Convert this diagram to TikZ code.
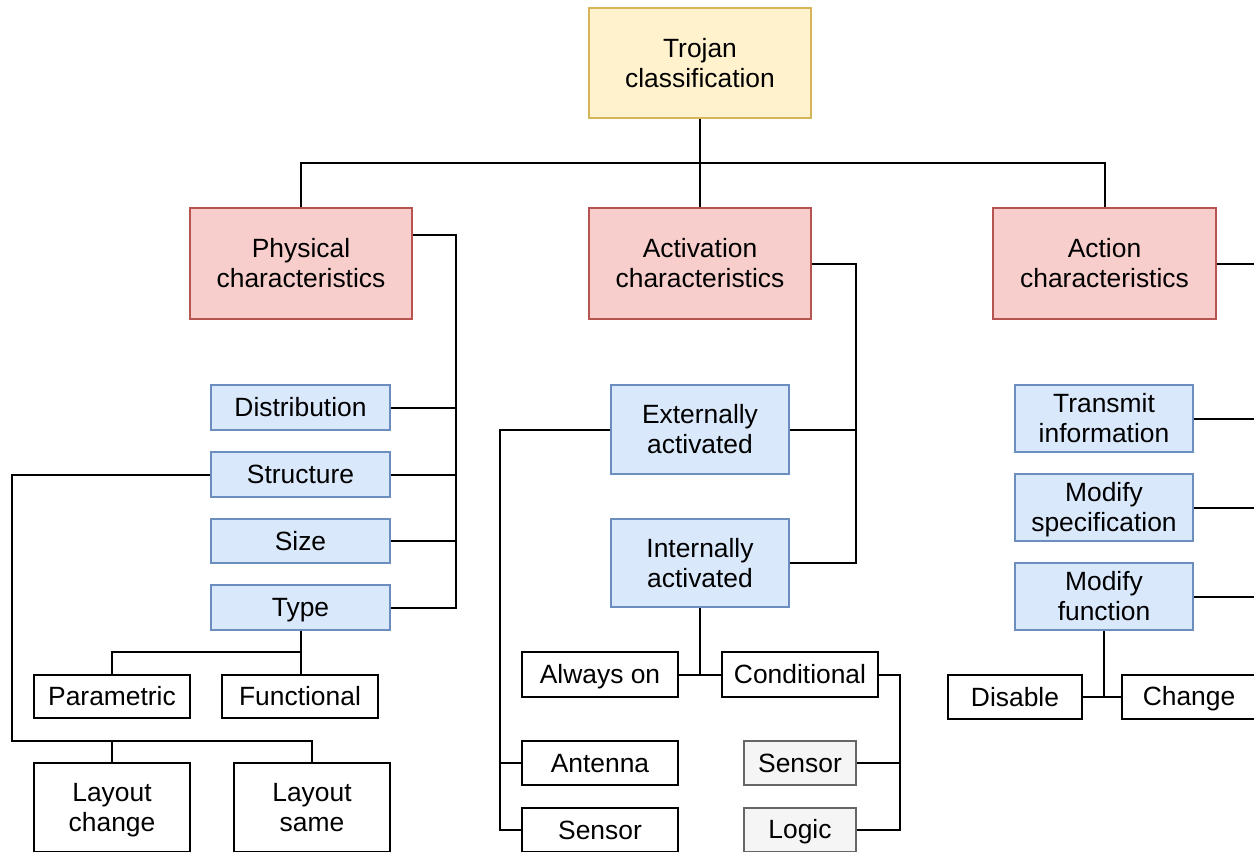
\documentclass[tikz,border=0pt]{standalone}
\usepackage{fontspec}
\setmainfont{Liberation Sans}
\definecolor{yfill}{HTML}{FFF2CC}\definecolor{ydraw}{HTML}{D6B656}
\definecolor{rfill}{HTML}{F8CECC}\definecolor{rdraw}{HTML}{B85450}
\definecolor{bfill}{HTML}{DAE8FC}\definecolor{bdraw}{HTML}{6C8EBF}
\definecolor{gfill}{HTML}{F5F5F5}\definecolor{gdraw}{HTML}{666666}
\tikzset{
  base/.style={draw,line width=1pt,inner sep=0pt,align=center,font=\fontsize{13.2}{15}\selectfont},
  ybox/.style={base,fill=yfill,draw=ydraw},
  rbox/.style={base,fill=rfill,draw=rdraw},
  bbox/.style={base,fill=bfill,draw=bdraw},
  gbox/.style={base,fill=gfill,draw=gdraw},
  wbox/.style={base,fill=white,draw=black},
  conn/.style={line width=1pt,draw=black}
}
\newcommand\bx[7]{\node[#2,minimum width={(#5-#3)*0.5pt},minimum height={(#6-#4)*0.5pt}] (#1) at ({(#3+#5)/2},{(#4+#6)/2}) {#7};}
\newcommand\st{\rule[-2.5pt]{0pt}{14pt}}
\newcommand\tl[2]{\st#1\\\st#2}
\begin{document}
\begin{tikzpicture}[x=0.5pt,y=-0.5pt]
\clip (0,0) rectangle (1254,852);
\fill[white] (0,0) rectangle (1254,852);
% junction coordinates
\coordinate (j1) at (700,163);
\coordinate (pb) at (456,607.5);
\coordinate (sl) at (12,741);
\coordinate (tj) at (300,652);
\coordinate (av) at (856,563);
\coordinate (el) at (500,830);
\coordinate (cr) at (900,830);
\coordinate (rightedge) at (1270,0);
% nodes
\bx{top}{ybox}{589}{8}{811}{118}{\tl{Trojan}{classification}}
\bx{phys}{rbox}{190}{208}{412}{319}{\tl{Physical}{characteristics}}
\bx{act}{rbox}{589}{208}{811}{319}{\tl{Activation}{characteristics}}
\bx{action}{rbox}{993}{208}{1216}{319}{\tl{Action}{characteristics}}
\bx{dist}{bbox}{211}{385}{390}{430}{\st Distribution}
\bx{struct}{bbox}{211}{452}{390}{497}{\st Structure}
\bx{size}{bbox}{211}{519}{390}{563}{\st Size}
\bx{type}{bbox}{211}{585}{390}{630}{\st Type}
\bx{param}{wbox}{34}{675}{190}{718}{\st Parametric}
\bx{func}{wbox}{222}{675}{378}{718}{\st Functional}
\bx{lay1}{wbox}{34}{763}{190}{852}{\tl{Layout}{change}}
\bx{lay2}{wbox}{234}{763}{390}{852}{\tl{Layout}{same}}
\bx{ext}{bbox}{611}{385}{789}{474}{\tl{Externally}{activated}}
\bx{int}{bbox}{611}{519}{789}{607}{\tl{Internally}{activated}}
\bx{always}{wbox}{522}{652}{678}{697}{\st Always on}
\bx{cond}{wbox}{722}{652}{878}{697}{\st Conditional}
\bx{ant}{wbox}{522}{741}{678}{785}{\st Antenna}
\bx{sens1}{wbox}{522}{808}{678}{852}{\st Sensor}
\bx{sens2}{gbox}{744}{741}{856}{785}{\st Sensor}
\bx{logic}{gbox}{744}{808}{856}{852}{\st Logic}
\bx{trans}{bbox}{1015}{385}{1193}{452}{\tl{Transmit}{information}}
\bx{mods}{bbox}{1015}{474}{1193}{541}{\tl{Modify}{specification}}
\bx{modf}{bbox}{1015}{563}{1193}{630}{\tl{Modify}{function}}
\bx{disable}{wbox}{948}{675}{1082}{719}{\st Disable}
\bx{change}{wbox}{1122}{675}{1256}{719}{\st Change}
% connectors
\begin{scope}[conn]
\draw (top.south) -- (j1);
\draw (phys.north) |- (j1) -| (action.north);
\draw (act.north) -- (act.north |- j1);
% physical
\draw (phys.east |- 0,235) -| (pb) -- (type.east);
\draw (dist.east) -- (dist.east -| pb);
\draw (struct.east) -- (struct.east -| pb);
\draw (size.east) -- (size.east -| pb);
\draw (type.south) -- (type.south |- tj) -| (param.north);
\draw (type.south |- tj) -- (func.north -| type.south);
\draw (struct.west) -| (sl) -| (lay1.north);
\draw (sl) -| (lay2.north);
% activation
\draw (act.east) -| (av) -- (int.east);
\draw (ext.east) -- (ext.east -| av);
\draw (ext.west) -| (el) -- (sens1.west);
\draw (ant.west) -- (ant.west -| el);
\draw (int.south) -- (int.south |- always.east);
\draw (always.east) -- (cond.west);
\draw (cond.east) -| (cr) -- (logic.east);
\draw (sens2.east) -- (sens2.east -| cr);
% action
\draw (action.east) -- (action.east -| rightedge);
\draw (trans.east) -- (trans.east -| rightedge);
\draw (mods.east) -- (mods.east -| rightedge);
\draw (modf.east) -- (modf.east -| rightedge);
\draw (modf.south) -- (modf.south |- disable.east);
\draw (disable.east) -- (change.west);
\end{scope}
\end{tikzpicture}
\end{document}
